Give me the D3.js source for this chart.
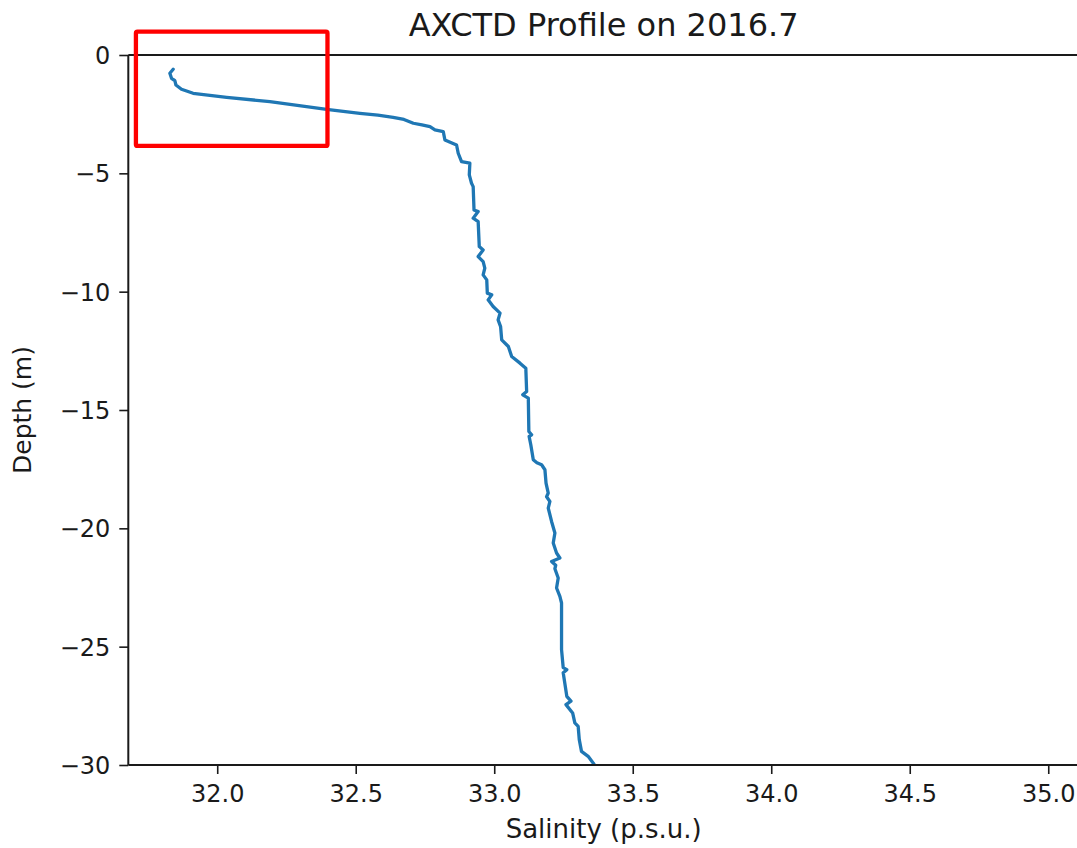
<!DOCTYPE html>
<html>
<head>
<meta charset="utf-8">
<script src="https://cdn.jsdelivr.net/npm/d3@7"></script>
<style>
  html, body { margin: 0; padding: 0; background: #fff; overflow: hidden; }
  text { font-family: "DejaVu Sans", sans-serif; fill: #1a1a1a; }
</style>
</head>
<body>
<svg id="chart" width="1077" height="848"></svg>
<script>
// ---- data ----
const salinity = [31.841, 31.829, 31.835, 31.847, 31.851, 31.871, 31.913, 32.034, 32.190, 32.395,
  32.515, 32.580, 32.635, 32.674, 32.708, 32.739, 32.768, 32.786, 32.816, 32.822, 32.864, 32.870, 32.882,
  32.912, 32.910, 32.918, 32.924, 32.927, 32.942, 32.924, 32.942, 32.946, 32.960,
  32.942, 32.960, 32.966, 32.960, 32.973, 32.975, 32.991, 32.978, 32.996, 33.021,
  33.014, 33.023, 33.027, 33.051, 33.063, 33.093, 33.114, 33.117, 33.103, 33.123,
  33.125, 33.135, 33.126, 33.132, 33.141, 33.154, 33.171, 33.183, 33.187, 33.195,
  33.189, 33.201, 33.195, 33.207, 33.219, 33.213, 33.225, 33.237, 33.207, 33.222,
  33.219, 33.231, 33.225, 33.237, 33.243, 33.243, 33.249, 33.262, 33.249, 33.262,
  33.277, 33.259, 33.283, 33.291, 33.303, 33.307, 33.315, 33.339, 33.357, 33.370];
const depth = [-0.604, -0.773, -0.984, -1.085, -1.267, -1.449, -1.617, -1.786, -1.972, -2.293,
  -2.462, -2.545, -2.631, -2.724, -2.884, -2.956, -3.028, -3.167, -3.239, -3.590, -3.801, -4.151, -4.506,
  -4.573, -5.068, -5.418, -5.562, -6.546, -6.617, -6.896, -7.040, -8.095, -8.235,
  -8.518, -8.729, -9.008, -9.291, -9.502, -10.063, -10.135, -10.346, -10.629, -10.908,
  -11.191, -11.474, -12.036, -12.318, -12.741, -13.020, -13.231, -14.219, -14.358, -14.497,
  -15.908, -16.047, -16.119, -16.470, -17.103, -17.230, -17.314, -17.525, -18.087, -18.509,
  -18.666, -18.864, -19.143, -19.709, -20.199, -20.621, -21.044, -21.254, -21.398, -21.560,
  -21.706, -22.099, -22.521, -22.876, -23.155, -25.127, -25.887, -25.971, -26.098, -27.099,
  -27.302, -27.449, -27.800, -28.222, -28.366, -28.927, -29.422, -29.633, -29.912, -30.15];
const xTicks = [32.0, 32.5, 33.0, 33.5, 34.0, 34.5, 35.0];
const yTicks = [0, -5, -10, -15, -20, -25, -30];
const xDomain = [31.679, 35.111];
const yDomain = [-30, 0];
const titleText = "AXCTD Profile on 2016.7";
const xLabel = "Salinity (p.s.u.)";
const yLabel = "Depth (m)";
// highlight box (data units): [salMin, salMax], [depthTop, depthBottom]
const boxSal = [31.7065, 32.398];
const boxDepth = [0.984, -3.843];

// ---- layout ----
const svg = d3.select("#chart");
const L = 128.3, R = 1079, T = 55, B = 765;
const x = d3.scaleLinear().domain(xDomain).range([L, R]);
const y = d3.scaleLinear().domain(yDomain).range([B, T]);

svg.append("defs").append("clipPath").attr("id", "clip")
  .append("rect").attr("x", L).attr("y", T).attr("width", R - L).attr("height", B - T);

// line
const pts = salinity.map((s, i) => [s, depth[i]]);
svg.append("path")
  .datum(pts)
  .attr("clip-path", "url(#clip)")
  .attr("fill", "none")
  .attr("stroke", "#1f77b4")
  .attr("stroke-width", 3.3)
  .attr("stroke-linejoin", "round")
  .attr("stroke-linecap", "round")
  .attr("d", d3.line().x(d => x(d[0])).y(d => y(d[1])));

// axes
const fmt1 = d3.format(".1f");
const gx = svg.append("g").attr("transform", `translate(0,${B})`)
  .call(d3.axisBottom(x).tickValues(xTicks).tickFormat(d => fmt1(d)).tickSize(9).tickPadding(9).tickSizeOuter(0));
const gy = svg.append("g").attr("transform", `translate(${L},0)`)
  .call(d3.axisLeft(y).tickValues(yTicks).tickFormat(d => d < 0 ? "\u2212" + Math.abs(d) : String(d)).tickSize(9).tickPadding(9).tickSizeOuter(0));
[gx, gy].forEach(g => {
  g.select(".domain").remove();
  g.selectAll(".tick line").attr("stroke", "#1a1a1a").attr("stroke-width", 1.6);
  g.selectAll(".tick text").style("font-family", "'DejaVu Sans', sans-serif").style("font-size", "24px").attr("fill", "#1a1a1a");
});
gx.selectAll(".tick text").attr("dy", "0.78em");
gy.selectAll(".tick text").attr("dy", "0.36em");

// spines
svg.append("line").attr("x1", L).attr("x2", L).attr("y1", T).attr("y2", B)
  .attr("stroke", "#1a1a1a").attr("stroke-width", 2);
svg.append("line").attr("x1", L).attr("x2", R).attr("y1", B).attr("y2", B)
  .attr("stroke", "#1a1a1a").attr("stroke-width", 2);
svg.append("line").attr("x1", L).attr("x2", R).attr("y1", T).attr("y2", T)
  .attr("stroke", "#1a1a1a").attr("stroke-width", 2);

// title & labels
svg.append("text").attr("x", (L + R) / 2).attr("y", 36).attr("text-anchor", "middle")
  .style("font-size", "32px").text(titleText);
svg.append("text").attr("x", (L + R) / 2).attr("y", 838).attr("text-anchor", "middle")
  .style("font-size", "26px").text(xLabel);
svg.append("text").attr("transform", `translate(31,${(T + B) / 2}) rotate(-90)`).attr("text-anchor", "middle")
  .style("font-size", "25px").text(yLabel);

// highlight box
svg.append("rect")
  .attr("x", x(boxSal[0])).attr("y", y(boxDepth[0]))
  .attr("width", x(boxSal[1]) - x(boxSal[0])).attr("height", y(boxDepth[1]) - y(boxDepth[0]))
  .attr("rx", 1.5)
  .attr("fill", "none").attr("stroke", "#ff0000").attr("stroke-width", 4.3);
</script>
</body>
</html>
